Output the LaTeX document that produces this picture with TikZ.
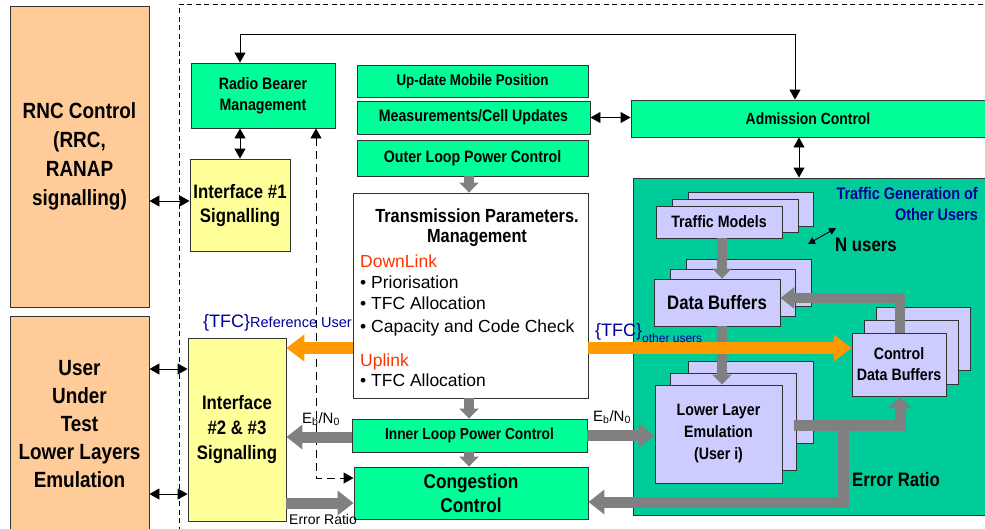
\documentclass[tikz,border=0pt]{standalone}
\usepackage{fontspec}
\setmainfont{Liberation Sans}
\newfontfamily\nb{Liberation Sans}[FakeStretch=0.86]
\usetikzlibrary{arrows.meta}
\definecolor{peach}{RGB}{255,204,153}
\definecolor{mint}{RGB}{0,255,153}
\definecolor{paleyellow}{RGB}{255,255,153}
\definecolor{tealbg}{RGB}{0,204,153}
\definecolor{lav}{RGB}{204,204,255}
\definecolor{tfcorange}{RGB}{255,153,0}
\definecolor{linkred}{RGB}{255,51,0}
\definecolor{navyblue}{RGB}{0,0,153}
\definecolor{flowgray}{RGB}{128,128,128}
\newcommand\fs[2]{\fontsize{#1}{#2}\selectfont}
% box from corner (x1,y1) to (x2,y2); y grows downward
\newcommand\bx[7][]{%
  \node[blk,#1,minimum width={(#5-#3)*1pt},minimum height={(#6-#4)*1pt}]
    (#2) at ({(#3+#5)/2},{(#4+#6)/2}) {#7};}
\tikzset{
  blk/.style={draw=black!80,line width=0.9pt,inner sep=0pt,align=center,font=\nb\bfseries},
  dbl/.style={line width=0.9pt,{Triangle[length=10pt,width=11pt]}-{Triangle[length=10pt,width=11pt]}},
  ndbl/.style={line width=0.9pt,{Triangle[length=7pt,width=7pt]}-{Triangle[length=7pt,width=7pt]}},
  frame/.style={line width=0.8pt,dash pattern=on 5pt off 3.5pt},
  gv/.style={draw=flowgray,line width=10pt,-{Triangle[length=10pt,width=19pt]}},
  gh/.style={draw=flowgray,line width=11pt,line join=miter,-{Triangle[length=16pt,width=24pt]}},
  gup/.style={draw=flowgray,line width=11pt,line join=miter,-{Triangle[length=12pt,width=23pt]}},
  tfc/.style={draw=tfcorange,line width=12pt,-{Triangle[length=18pt,width=26pt]}},
  lst/.style={anchor=base west,inner sep=0pt,font=\fs{17.5}{21}},
  lbl/.style={anchor=base west,inner sep=0pt},
}
\begin{document}
\begin{tikzpicture}[x=1pt,y=-1pt]
\useasboundingbox (0,0) rectangle (985,528);

% dashed frame of the simulator part
\coordinate (f0) at (179,4);
\coordinate (f1) at (179,540);
\coordinate (f2) at (995,4);
\draw[frame] (f1) -- (f0) -- (f2);

% external blocks
\bx[fill=peach,font=\nb\bfseries\fs{22}{29}]{rnc}{10}{6}{149}{307}{RNC Control\\(RRC,\\RANAP\\signalling)}
\bx[fill=peach,font=\nb\bfseries\fs{22}{28}]{uut}{10}{316}{149}{532}{User\\Under\\Test\\Lower Layers\\Emulation}

% interfaces and radio bearer management
\bx[fill=mint,font=\nb\bfseries\fs{16.5}{21}]{rbm}{191}{63}{335}{128}{Radio Bearer\\Management}
\bx[fill=paleyellow,font=\nb\bfseries\fs{19.5}{24}]{if1}{190}{159}{290}{251}{Interface \#1\\Signalling}
\bx[fill=paleyellow,font=\nb\bfseries\fs{19.5}{25}]{if23}{188}{338}{286}{521}{Interface\\\#2 \& \#3\\Signalling}

% central column
\bx[fill=mint,font=\nb\bfseries\fs{15.5}{18}]{ump}{357}{65}{588}{97}{Up-date Mobile Position}
\bx[fill=mint,font=\nb\bfseries\fs{16.5}{18}]{mcu}{357}{101}{590}{134}{Measurements/Cell Updates}
\bx[fill=mint,font=\nb\bfseries\fs{16.5}{18}]{olpc}{357}{140}{588}{176}{Outer Loop Power Control}
\bx[fill=white]{tpm}{353}{193}{588}{398}{}
\bx[fill=mint,font=\nb\bfseries\fs{16}{18}]{ilpc}{352}{419}{587}{452}{Inner Loop Power Control}
\bx[fill=mint,font=\nb\bfseries\fs{20}{24}]{cc}{354}{467}{588}{519}{Congestion\\Control}

\node[font=\nb\bfseries\fs{19}{20},align=center,inner sep=0pt] (tpmtitle) at (477,228) {Transmission Parameters.\\Management};
\node[lst,text=linkred] (dl) at (360,267) {DownLink};
\node[lst] (l1) at (360,288) {• Priorisation};
\node[lst] (l2) at (360,309) {• TFC Allocation};
\node[lst] (l3) at (360,332) {• Capacity and Code Check};
\node[lst,text=linkred] (ul) at (360,366) {Uplink};
\node[lst] (l4) at (360,386) {• TFC Allocation};

% admission control and traffic of the other users
\bx[fill=mint]{adm}{631}{100}{995}{137}{}
\node[font=\nb\bfseries\fs{16.2}{18},inner sep=0pt] (admtext) at (808,119) {Admission Control};
\bx[fill=tealbg]{tg}{633}{178}{995}{515}{}
\node[font=\nb\bfseries\fs{16.8}{21},text=navyblue,align=right,anchor=east,inner sep=0pt] (tgtitle) at (978,204) {Traffic Generation of\\Other Users};

\bx[fill=lav]{tm3}{688}{192}{813}{226}{}
\bx[fill=lav]{tm2}{672}{199}{798}{232}{}
\bx[fill=lav,font=\nb\bfseries\fs{16.5}{18}]{tm}{656}{206}{782}{238}{Traffic Models}

\bx[fill=lav]{db3}{686}{259}{811}{306}{}
\bx[fill=lav]{db2}{670}{269}{795}{316}{}
\bx[fill=lav,font=\nb\bfseries\fs{19.5}{22}]{db}{654}{279}{780}{326}{Data Buffers}

\bx[fill=lav]{ll3}{688}{361}{813}{443}{}
\bx[fill=lav]{ll2}{670}{373}{796}{470}{}
\bx[fill=lav,font=\nb\bfseries\fs{16.5}{22}]{ll}{655}{385}{782}{483}{Lower Layer\\Emulation\\(User i)}

\bx[fill=lav]{cdb3}{876}{307}{970}{370}{}
\bx[fill=lav]{cdb2}{864}{320}{958}{384}{}
\bx[fill=lav,font=\nb\bfseries\fs{16.5}{21}]{cdb}{852}{333}{946}{396}{Control\\Data Buffers}

\node[font=\nb\bfseries\fs{19.5}{20},anchor=west,inner sep=0pt] (nusers) at (835,245) {N users};
\coordinate (na1) at (808,244);
\coordinate (na2) at (836,228);
\draw[ndbl] (na1) -- (na2);
\node[font=\nb\bfseries\fs{19.5}{20},anchor=west,inner sep=0pt] (erlabel) at (852,480) {Error Ratio};

% black signalling connectors
\coordinate (c1) at (240,34);
\coordinate (c2) at (795,34);
\draw[dbl] (rbm.north -| c1) -- (c1) -- (c2) -- (adm.north -| c2);
\draw[dbl] (rbm.south -| if1.north) -- (if1.north);
\coordinate (r1) at (0,201);
\draw[dbl] (rnc.east |- r1) -- (if1.west |- r1);
\coordinate (r2) at (0,369);
\coordinate (r3) at (0,494);
\draw[dbl] (uut.east |- r2) -- (if23.west |- r2);
\draw[dbl] (uut.east |- r3) -- (if23.west |- r3);
\draw[dbl] (mcu.east) -- (adm.west |- mcu.east);
\coordinate (ax) at (799,0);
\draw[dbl] (adm.south -| ax) -- (tg.north -| ax);
\coordinate (dx) at (316,478);
\draw[dbl,dash pattern=on 8pt off 5pt] (rbm.south -| dx) -- (dx) -- (cc.west |- dx);

% grey data flows
\coordinate (gx) at (469,0);
\draw[gv] (olpc.south -| gx) -- (tpm.north -| gx);
\draw[gv] (tpm.south -| gx) -- (ilpc.north -| gx);
\draw[gv] (ilpc.south -| gx) -- (cc.north -| gx);
\coordinate (e1) at (0,437);
\draw[gh] (ilpc.west |- e1) -- (if23.east |- e1);
\draw[gh] (ilpc.east) -- (ll.west |- ilpc.east);
\coordinate (e2) at (0,503);
\draw[gh] (if23.east |- e2) -- (cc.west |- e2);

\coordinate (sx) at (722,0);
\draw[gv] (tm.south -| sx) -- (db.north -| sx);
\draw[gv] (db.south -| sx) -- (ll.north -| sx);
\coordinate (fb) at (900,298);
\draw[gh,line width=10pt,-{Triangle[length=14pt,width=21pt]}] (cdb.north -| fb) -- (fb) -- (db.east |- fb);
\coordinate (lr) at (794,425);
\coordinate (lc) at (900,425);
\draw[gup] (lr) -- (lc) -- (cdb.south -| lc);
\coordinate (eb) at (843,421);
\coordinate (ec) at (843,502);
\draw[gh] (eb) -- (ec) -- (cc.east |- ec);

% TFC flows
\coordinate (o) at (0,348);
\draw[tfc] (tpm.west |- o) -- (if23.east |- o);
\draw[tfc] (tpm.east |- o) -- (cdb.west |- o);

% labels of the flows
\node[lbl,text=navyblue] (tfcref) at (203,327) {\fs{18}{18}\{TFC\}\fs{14.5}{15}Reference User};
\node[lbl,text=navyblue] (tfcoth) at (595,336) {\fs{18}{18}\{TFC\}\raisebox{-6pt}{\fs{12}{12}other users}};
\node[lbl,font=\fs{15}{15}] (ebl) at (302,423) {E\textsubscript{b}/N\textsubscript{0}};
\node[lbl,font=\fs{15}{15}] (ebr) at (593,421) {E\textsubscript{b}/N\textsubscript{0}};
\node[lbl,font=\fs{14}{15}] (erbot) at (289,524) {Error Ratio};
\end{tikzpicture}
\end{document}
